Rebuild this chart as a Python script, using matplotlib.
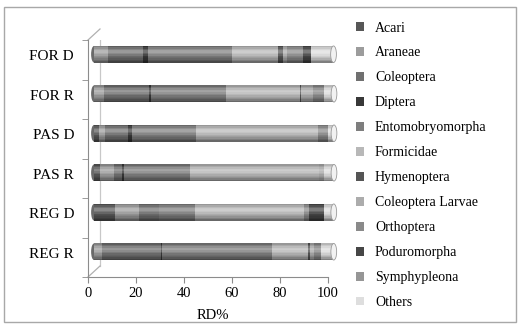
import numpy as np
import matplotlib.pyplot as plt
from matplotlib.patches import Patch, Rectangle, Ellipse
from matplotlib.lines import Line2D
from matplotlib.transforms import ScaledTranslation

plt.rcParams['font.family'] = ['Liberation Serif', 'DejaVu Serif']

sites = ["FOR D", "FOR R", "PAS D", "PAS R", "REG D", "REG R"]
taxa = ["Acari", "Araneae", "Coleoptera", "Diptera", "Entomobryomorpha",
        "Formicidae", "Hymenoptera", "Coleoptera Larvae", "Orthoptera",
        "Poduromorpha", "Symphypleona", "Others"]

# relative density (%) per site, one list per taxon
acari = [0, 0, 2.0, 2.6, 8.7, 0]
araneae = [6.0, 4.0, 2.5, 5.9, 10.2, 3.3]
coleoptera = [14.3, 19.0, 9.5, 3.0, 8.2, 24.5]
diptera = [2.0, 0.7, 2.0, 1.1, 0, 0.7]
entomobryomorpha = [35.4, 31.3, 26.7, 27.5, 15.0, 45.6]
formicidae = [19.0, 30.7, 50.7, 53.8, 45.6, 15.0]
hymenoptera = [2.0, 0.5, 0, 0, 0, 1.1]
col_larvae = [1.8, 5.0, 0, 2.0, 0, 1.6]
orthoptera = [6.4, 4.8, 4.0, 0, 2.0, 2.7]
poduromorpha = [3.4, 0, 0, 0, 6.1, 0]
symphypleona = [0, 0, 0, 0, 0, 0]
others = [9.5, 4.0, 2.6, 4.1, 4.1, 5.4]

series = [acari, araneae, coleoptera, diptera, entomobryomorpha, formicidae,
          hymenoptera, col_larvae, orthoptera, poduromorpha, symphypleona, others]
colors = ["#575757", "#9c9c9c", "#707070", "#383838", "#7e7e7e", "#b8b8b8",
          "#555555", "#acacac", "#8a8a8a", "#464646", "#969696", "#dedede"]

fig = plt.figure(figsize=(5.2, 3.26), dpi=100)
ax = fig.add_axes([88 / 520, 49 / 326, 240 / 520, 237 / 326])

# 3D depth shift for bars (half depth) and back wall (full depth)
half = ax.transData + ScaledTranslation(0.06, 0.055, fig.dpi_scale_trans)
back = ax.transAxes + ScaledTranslation(0.12, 0.11, fig.dpi_scale_trans)

y = np.arange(len(sites))
h = 0.42
left = np.zeros(len(sites))
for vals, c in zip(series, colors):
    vals = np.array(vals)
    ax.barh(y, vals, left=left, height=h, color=c, edgecolor="none", transform=half,
            zorder=3, clip_on=False)
    left += vals
totals = left

# cylinder shading
n = 12
for i in range(n):
    t = (i + 0.5) / n
    yc = y - h / 2 + (i + 0.5) * h / n
    light = max(0.0, 1 - abs(t - 0.33) / 0.3) * 0.35
    dark = (abs(t - 0.4) / 0.6) ** 2 * 0.5
    ax.barh(yc, totals, height=h / n, color="white", alpha=light, edgecolor="none",
            transform=half, zorder=4, clip_on=False)
    ax.barh(yc, totals, height=h / n, color="black", alpha=dark, edgecolor="none",
            transform=half, zorder=4, clip_on=False)

for yi, tot in zip(y, totals):
    ax.add_patch(Ellipse((tot, yi), 2.4, h, facecolor="#f2f2f2", edgecolor="#9a9a9a",
                         lw=0.6, transform=half, zorder=5, clip_on=False))
    ax.add_patch(Ellipse((0, yi), 2.4, h, facecolor="#6a6a6a", edgecolor="none",
                         transform=half, zorder=2, clip_on=False))

ax.set_xlim(0, 100)
ax.set_ylim(len(sites) - 0.5, -0.5)
ax.set_xticks([0, 20, 40, 60, 80, 100])
ax.set_yticks(y)
ax.set_yticklabels(sites)
ax.set_yticks(np.arange(len(sites) + 1) - 0.5, minor=True)
ax.tick_params(axis="y", which="major", length=0, pad=10, labelsize=11)
ax.tick_params(axis="y", which="minor", length=4, color="#8c8c8c")
ax.tick_params(axis="x", length=4, color="#8c8c8c", labelsize=10.5, pad=3)
for lab in ax.get_yticklabels():
    lab.set_transform(lab.get_transform() + ScaledTranslation(0, 0.045, fig.dpi_scale_trans))
ax.set_xlabel("RD%", fontsize=10.5, labelpad=6)
ax.xaxis.set_label_coords(0.52, -0.135)

for s in ["top", "right"]:
    ax.spines[s].set_visible(False)
for s in ["left", "bottom"]:
    ax.spines[s].set_color("#8c8c8c")
ax.patch.set_alpha(0)

# back wall and floor edges
ax.add_line(Line2D([0, 0], [0, 1], transform=back, color="#c8c8c8", lw=0.9, zorder=1))
for yy in (0, 1):
    ax.add_line(Line2D([0, 0.05], [yy, yy + 0.0465], transform=ax.transAxes,
                       color="#b0b0b0", lw=0.9, clip_on=False, zorder=1))

handles = [Patch(facecolor=c, edgecolor="none") for c in colors]
fig.legend(handles, taxa, loc="upper left", bbox_to_anchor=(350 / 520, 1 - 16 / 326),
           frameon=False, fontsize=10, handlelength=0.6, handleheight=0.6,
           handletextpad=0.8, labelspacing=0.86, borderaxespad=0)

fig.patches.append(Rectangle((4 / 520, 4 / 326), 512 / 520, 315 / 326, transform=fig.transFigure,
                             fill=False, edgecolor="#a8a8a8", lw=1))

fig.savefig("out.png", dpi=100)
